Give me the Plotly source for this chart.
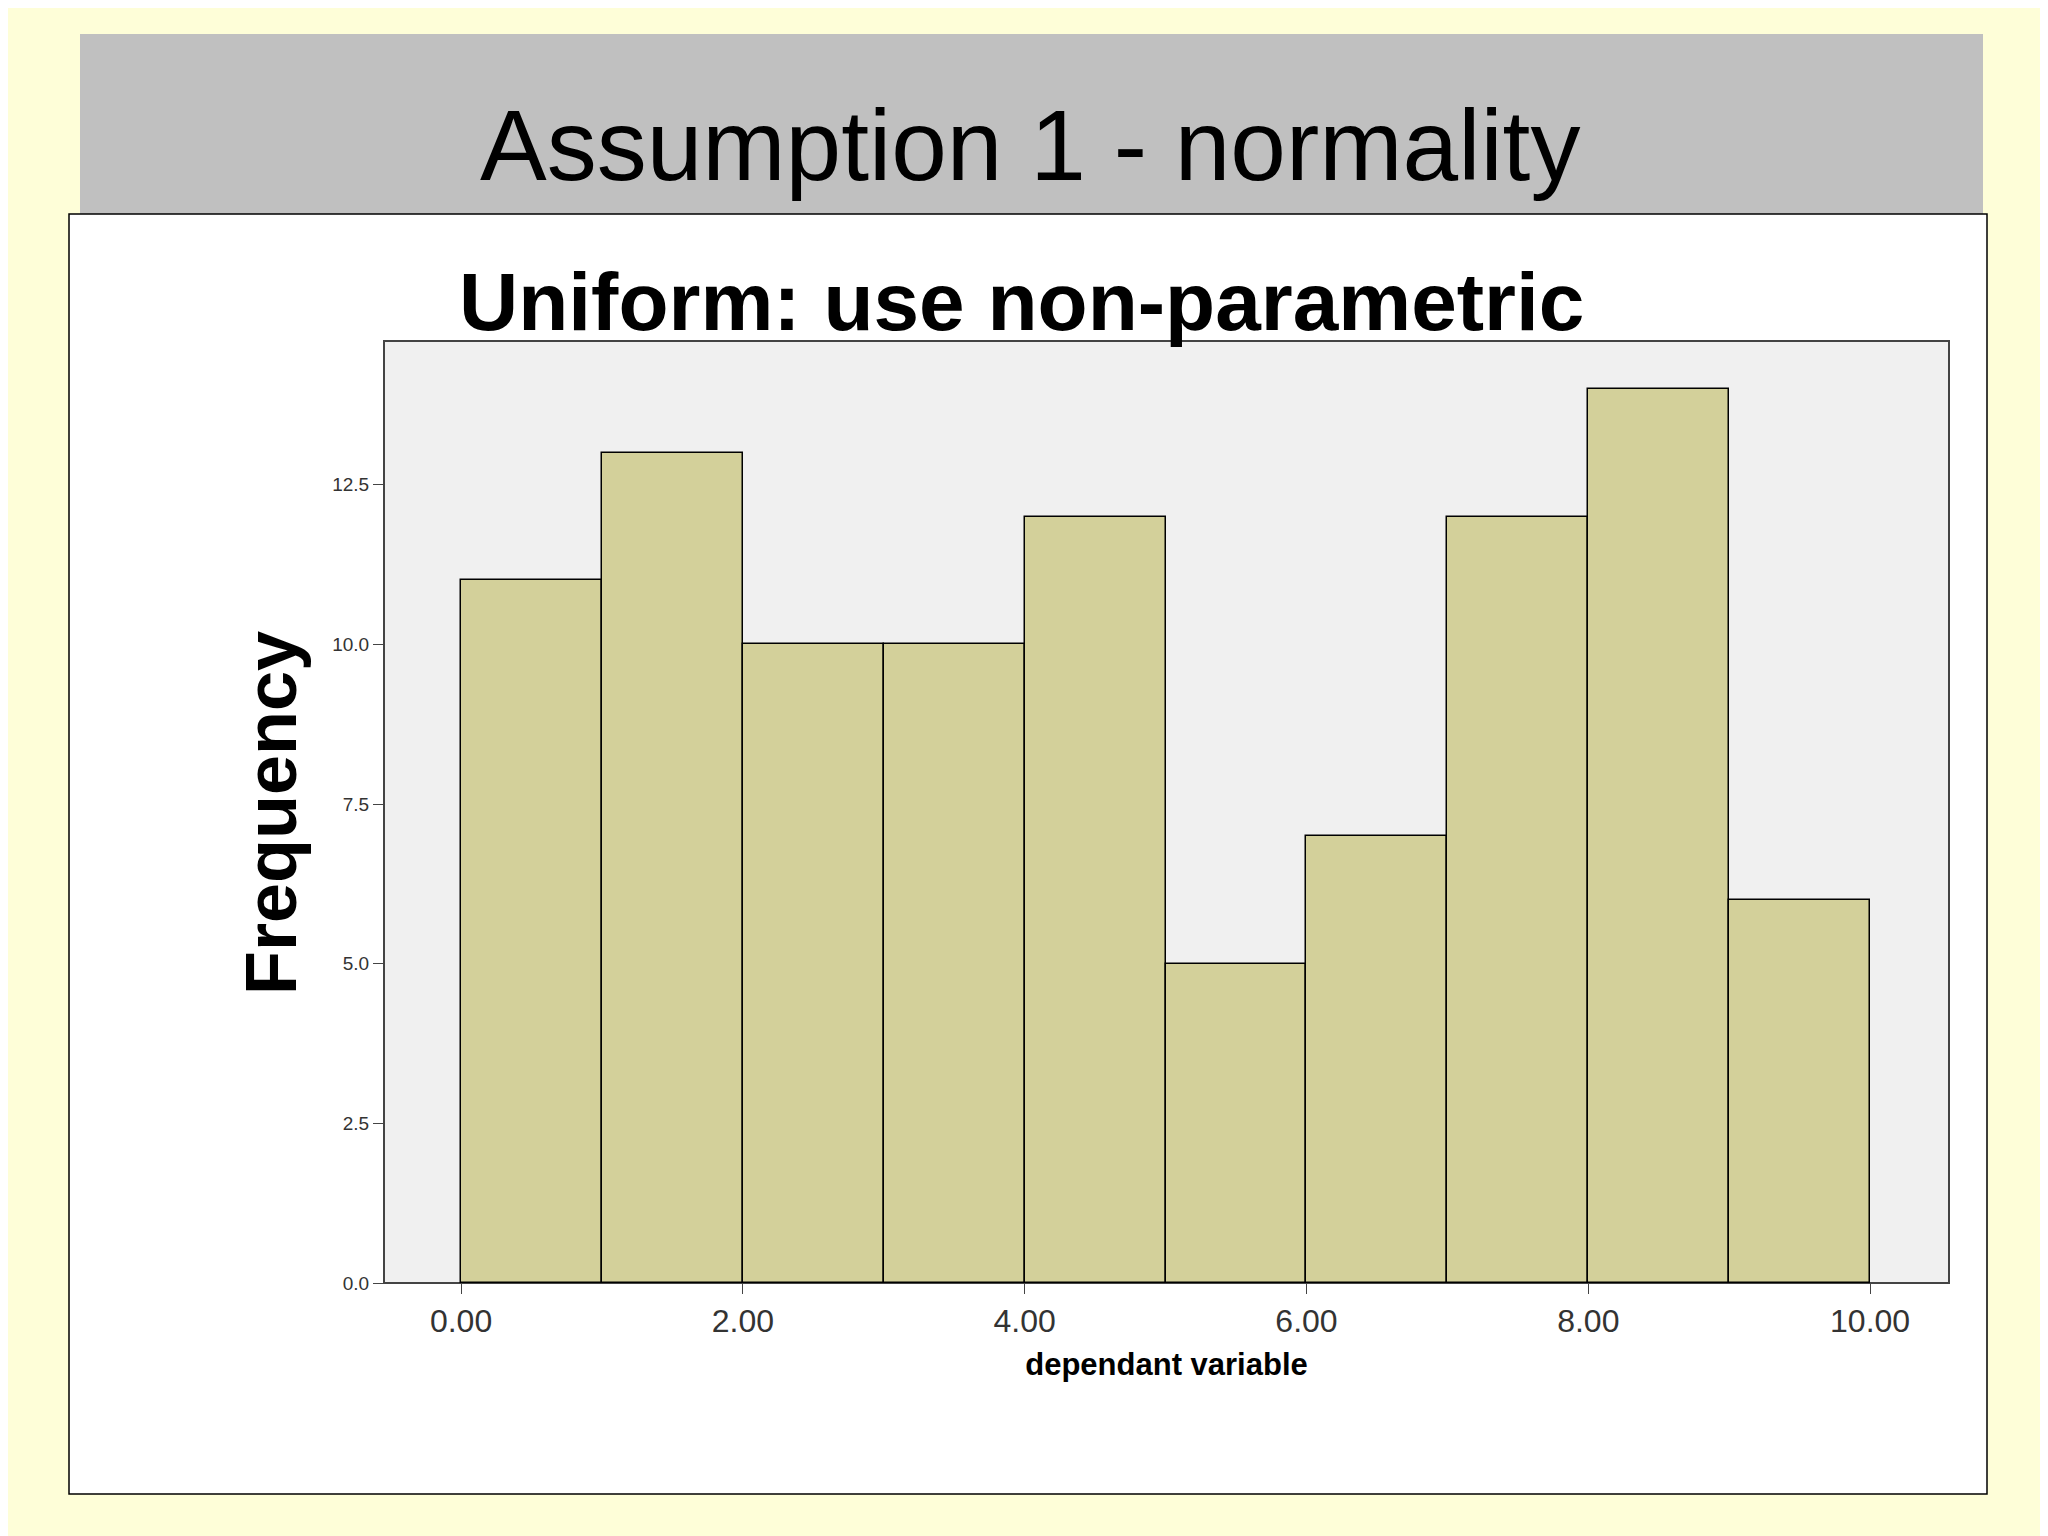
import plotly.graph_objects as go

bin_centers = [0.5, 1.5, 2.5, 3.5, 4.5, 5.5, 6.5, 7.5, 8.5, 9.5]
frequencies = [11, 13, 10, 10, 12, 5, 7, 12, 14, 6]
x_ticks = [0, 2, 4, 6, 8, 10]
y_ticks = [0, 2.5, 5, 7.5, 10, 12.5]

W, H = 2048, 1536
L, R, T, B = 376, 1941, 333, 1275
def px(X): return (X - L) / (R - L)
def py(Y): return (B - Y) / (B - T)

fig = go.Figure(go.Bar(x=bin_centers, y=frequencies, width=1,
                       marker=dict(color="#d3d09a", line=dict(color="black", width=1.5))))

shapes = [
    dict(type="rect", xref="paper", yref="paper", x0=px(72), x1=px(1975), y0=py(26), y1=py(206),
         fillcolor="#c0c0c0", line=dict(width=0), layer="below"),
    dict(type="rect", xref="paper", yref="paper", x0=px(61), x1=px(1979), y0=py(206), y1=py(1486),
         fillcolor="white", line=dict(color="black", width=1.5), layer="below"),
    dict(type="rect", xref="paper", yref="paper", x0=0, x1=1, y0=0, y1=1,
         fillcolor="#f0f0f0", line=dict(color="#444", width=2), layer="below"),
]

fig.update_layout(
    width=W, height=H, margin=dict(l=L, r=W - R, t=T, b=H - B),
    paper_bgcolor="#fefed8", plot_bgcolor="rgba(0,0,0,0)", shapes=shapes,
    showlegend=False, bargap=0,
    font=dict(family="Liberation Sans, Arial", color="black"),
    annotations=[
        dict(text="Assumption 1 - normality", xref="paper", yref="paper", x=px(1022), y=py(137),
             showarrow=False, font=dict(size=100), xanchor="center", yanchor="middle"),
        dict(text="<b>Uniform: use non-parametric</b>", xref="paper", yref="paper", x=px(1013), y=py(293),
             showarrow=False, font=dict(size=82), xanchor="center", yanchor="middle"),
        dict(text="<b>Frequency</b>", xref="paper", yref="paper", x=px(263), y=py(805),
             showarrow=False, font=dict(size=72), textangle=-90, xanchor="center", yanchor="middle"),
    ],
    xaxis=dict(range=[-0.547, 10.56], tickvals=x_ticks, tickformat=".2f", showgrid=False, zeroline=False,
               ticks="outside", ticklen=10, tickcolor="#444", tickfont=dict(size=32, color="#333"),
               title=dict(text="<b>dependant variable</b>", font=dict(size=31), standoff=14)),
    yaxis=dict(range=[0, 14.75], tickvals=y_ticks, tickformat=".1f", showgrid=False, zeroline=False,
               ticks="outside", ticklen=10, tickcolor="#444", tickfont=dict(size=19, color="#333")),
)
fig.write_html("out.html")
